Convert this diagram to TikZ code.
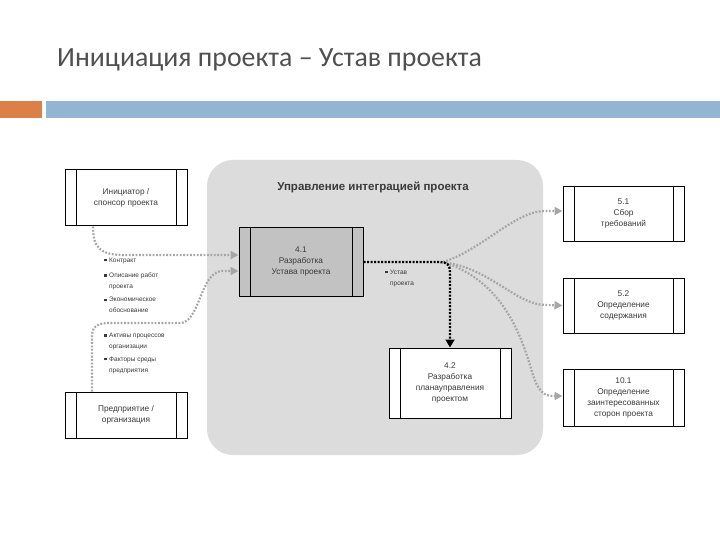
\documentclass[tikz,border=0pt]{standalone}
\usepackage{fontspec}
\setmainfont{Liberation Sans}
\newfontfamily\titlefont{Carlito}
\usetikzlibrary{arrows.meta}
\definecolor{titlegray}{HTML}{505050}
\definecolor{barorange}{HTML}{DD8047}
\definecolor{barblue}{HTML}{94B4D3}
\definecolor{panelgray}{HTML}{DCDCDC}
\definecolor{boxgray}{HTML}{C2C2C2}
\definecolor{linkgray}{HTML}{A6A6A6}
\definecolor{txtgray}{HTML}{3A3A3A}
\newcommand\bulsq{\llap{\rule[0.9pt]{2.3pt}{2.3pt}\hspace{2.6pt}}}
\begin{document}
\begin{tikzpicture}[x=1pt,y=-1pt,
  procbox/.style={draw=black, line width=1pt, fill=white, minimum width=122pt,
    inner sep=0pt, align=center, text=txtgray,
    font=\fontsize{8.3}{11}\selectfont,
    path picture={
      \draw[line width=0.8pt] ([xshift=11pt]path picture bounding box.north west) -- ([xshift=11pt]path picture bounding box.south west);
      \draw[line width=0.8pt] ([xshift=-11pt]path picture bounding box.north east) -- ([xshift=-11pt]path picture bounding box.south east);}},
  glink/.style={draw=linkgray, line width=2.2pt, dash pattern=on 1.8pt off 1.6pt,
    -{Triangle[length=8pt,width=8pt,fill=linkgray]}},
  blink/.style={draw=black, line width=2.4pt, dash pattern=on 2pt off 1.5pt,
    -{Triangle[length=8pt,width=9pt,fill=black]}},
  itemtext/.style={anchor=north west, inner sep=0pt, align=left, text=txtgray,
    font=\fontsize{6.5}{11}\selectfont}
]
\useasboundingbox (0,0) rectangle (720,540);
\fill[white] (0,0) rectangle (720,540);

% title and bars
\node[anchor=base west, inner sep=0pt, text=titlegray, font=\titlefont\fontsize{27.8}{30}\selectfont]
  (title) at (57,67) {Инициация проекта – Устав проекта};
\fill[barorange] (0,101) rectangle (42,118);
\fill[barblue] (46,101) rectangle (720,118);

% panel
\fill[panelgray, rounded corners=26pt] (207,160) rectangle (543,455);
\node[font=\bfseries\fontsize{11.5}{13}\selectfont, text=txtgray] (ptitle) at (373,187)
  {Управление интеграцией проекта};

% boxes
\node[procbox, minimum height=56pt] (ini) at (126,198) {Инициатор /\\спонсор проекта};
\node[procbox, minimum height=46pt] (ent) at (126,415) {Предприятие /\\организация};
\node[procbox, fill=boxgray, minimum width=124pt, minimum height=69pt] (p41) at (301,262) {4.1\\Разработка\\Устава проекта};
\node[procbox, minimum height=70pt] (p42) at (450,383) {4.2\\Разработка\\планауправления\\проектом};
\node[procbox, minimum width=121pt, minimum height=55pt] (p51) at (623.5,214) {5.1\\Сбор\\требований};
\node[procbox, minimum width=121pt, minimum height=55pt] (p52) at (623.5,305.5) {5.2\\Определение\\содержания};
\node[procbox, minimum width=121pt, minimum height=57pt] (p101) at (623.5,397.5) {10.1\\Определение\\заинтересованных\\сторон проекта};

% left connectors
\draw[glink] ([xshift=-33pt]ini.south) .. controls (93,248) and (100,255) .. (125,255) -- ([yshift=7pt]p41.west);
\draw[glink] ([xshift=-34pt]ent.north) -- (92,336) .. controls (92,326) and (98,323) .. (110,323) -- (180,323)
  .. controls (200,323) and (200,272) .. (222,271) -- ([yshift=-9pt]p41.west);

% left labels
\node[itemtext] (t1) at (109,257.5) {\bulsq Контракт};
\node[itemtext] (t2) at (109,272.5) {\bulsq Описание работ\\проекта};
\node[itemtext] (t3) at (109,297) {\bulsq Экономическое\\обоснование};
\node[itemtext] (t4) at (109,333) {\bulsq Активы процессов\\организации};
\node[itemtext] (t5) at (109,356.5) {\bulsq Факторы среды\\предприятия};

% output label
\node[itemtext] (t6) at (390,269.5) {\bulsq Устав\\проекта};

% right connectors
\coordinate (hub) at (443,262);
\draw[glink] (hub) .. controls (482,250) and (515,211) .. (545,211) -- ([yshift=3pt]p51.west);
\draw[glink] (hub) .. controls (490,268) and (515,304) .. (545,305) -- (p52.west);
\draw[glink] (hub) .. controls (500,280) and (520,330) .. (532,372) .. controls (538,392) and (545,396) .. (552,396) -- ([yshift=1.5pt]p101.west);
\draw[blink] (p41.east) -- (440,262) .. controls (447,262) and (450,265) .. (450,272) -- (p42.north);
\end{tikzpicture}
\end{document}
